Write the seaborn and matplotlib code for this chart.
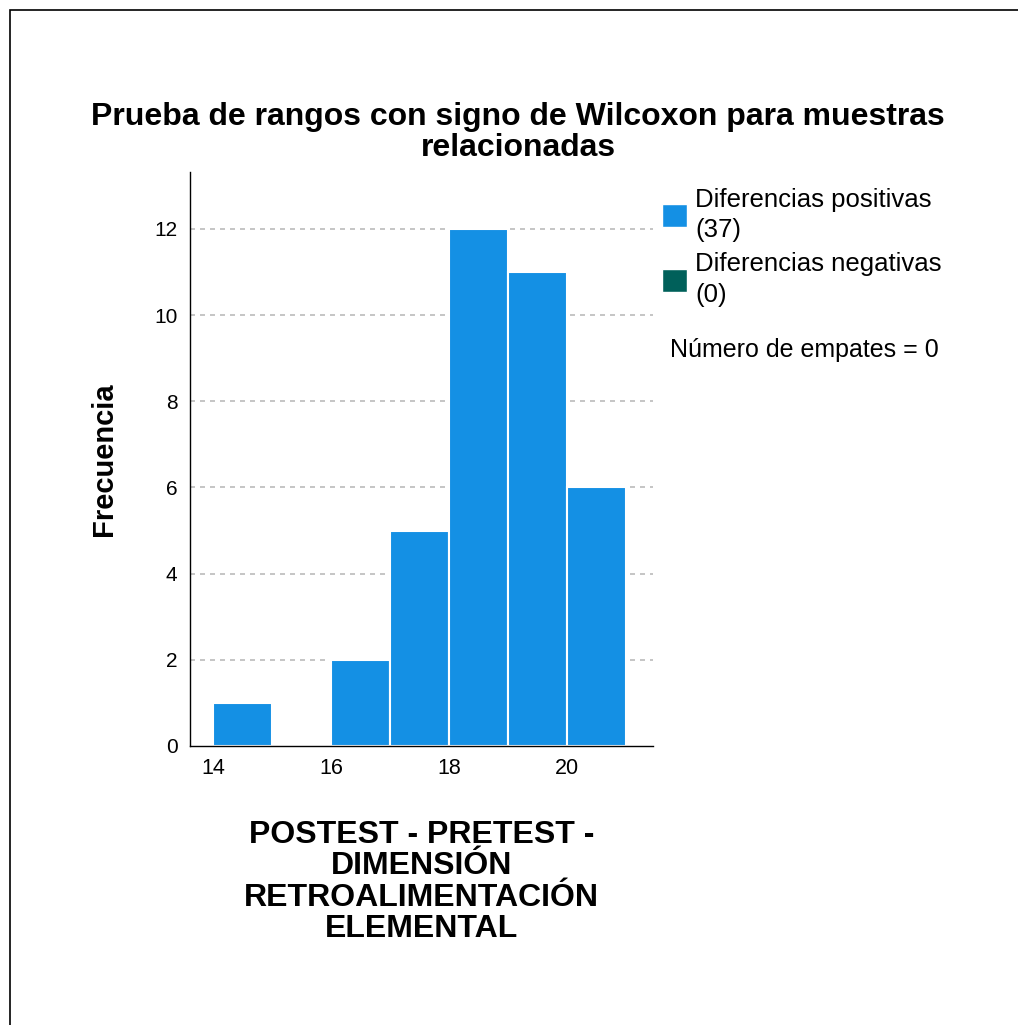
import numpy as np
import pandas as pd
import seaborn as sns
import matplotlib.pyplot as plt
from matplotlib.patches import Patch, Rectangle

# Values
bin_left = [14, 15, 16, 17, 18, 19, 20]
counts = [1, 0, 2, 5, 12, 11, 6]
bin_edges = [14, 15, 16, 17, 18, 19, 20, 21]
legend_labels = ['Diferencias positivas\n(37)', 'Diferencias negativas\n(0)']
legend_colors = ['#1490e4', '#00605a']

sns.set_style('white')
plt.rcParams['font.family'] = ['Liberation Sans', 'DejaVu Sans']
plt.rcParams['text.color'] = 'black'

df = pd.DataFrame({'diff': bin_left, 'n': counts})

fig = plt.figure(figsize=(10.18, 10.25), dpi=100)
ax = fig.add_axes([0.1866, 0.2722, 0.4548, 0.56])

sns.histplot(data=df, x='diff', weights='n', bins=bin_edges, ax=ax,
             color=legend_colors[0], alpha=1, edgecolor='white', linewidth=1.5)

ax.set_xlim(13.61, 21.46)
ax.set_ylim(0, 13.32)
ax.set_xticks([14, 16, 18, 20])
ax.set_yticks([0, 2, 4, 6, 8, 10, 12])
ax.tick_params(axis='x', length=0, labelsize=15.5, pad=9, colors='black')
ax.tick_params(axis='y', length=0, labelsize=15, pad=9, colors='black')
for y in [2, 4, 6, 8, 10, 12]:
    ax.axhline(y, color='#bbbbbb', ls=(0, (3, 3)), lw=1.2, zorder=0)
ax.set_axisbelow(True)
for s in ['top', 'right']:
    ax.spines[s].set_visible(False)
for s in ['left', 'bottom']:
    ax.spines[s].set_color('black')
    ax.spines[s].set_linewidth(1)

ax.set_ylabel('Frecuencia', fontsize=21, fontweight='bold', labelpad=26, color='black')
ax.set_xlabel('POSTEST - PRETEST -\nDIMENSIÓN\nRETROALIMENTACIÓN\nELEMENTAL',
              fontsize=23, fontweight='bold', labelpad=29, linespacing=1.06, color='black')

fig.text(0.509, 0.871, 'Prueba de rangos con signo de Wilcoxon para muestras\nrelacionadas',
         ha='center', va='center', fontsize=23, fontweight='bold', linespacing=1.04,
         color='black')

handles = [Patch(facecolor=c, edgecolor='white') for c in legend_colors]
leg = fig.legend(handles, legend_labels, loc='upper left', bbox_to_anchor=(0.650, 0.817),
                 frameon=False, fontsize=18.5, handlelength=1.0, handleheight=1.0,
                 handletextpad=0.3, labelspacing=0.38, borderaxespad=0, borderpad=0)
for t in leg.get_texts():
    t.set_linespacing(1.35)
    t.set_color('black')
fig.text(0.658, 0.659, 'Número de empates = 0', fontsize=18, va='center', color='black')

fig.patches.append(Rectangle((0.0098, -0.01), 1.0, 1.0, transform=fig.transFigure,
                             fill=False, edgecolor='black', lw=1.2))

fig.savefig('out.png', dpi=100)
